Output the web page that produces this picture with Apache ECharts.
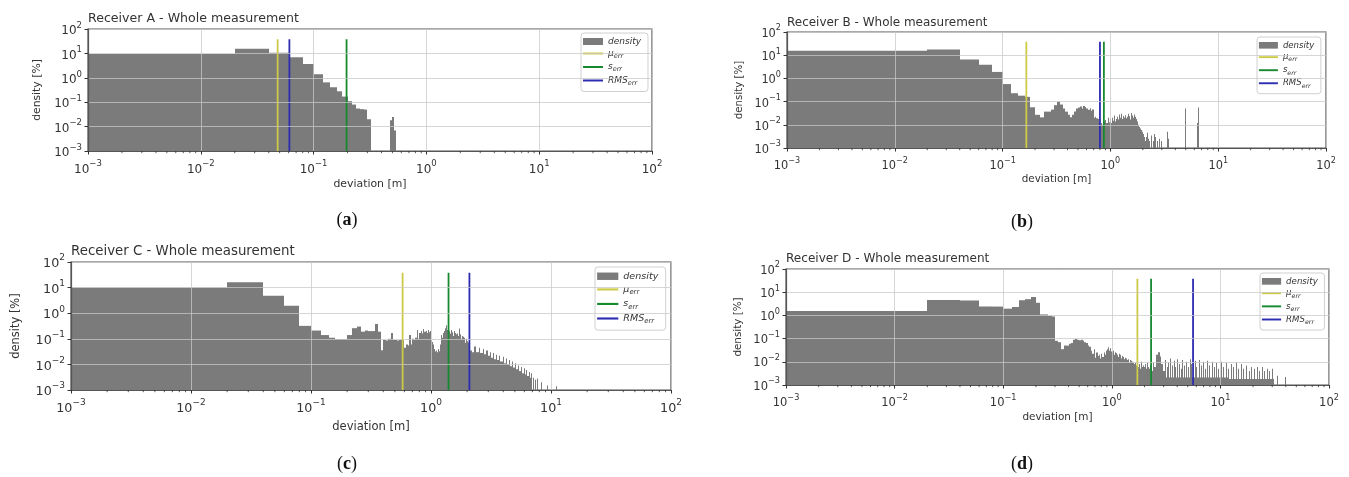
<!DOCTYPE html>
<html lang="en">
<head>
<meta charset="UTF-8">
<title>Receiver deviation histograms</title>
<script src="https://cdn.jsdelivr.net/npm/echarts@6/dist/echarts.min.js"></script>
<style>
    *{padding:0;margin:0;}
    html,body{width:100%;height:100%;background:#fff;}
    #main{width:1349px;height:477px;}
</style>
</head>
<body>
<div id="main"></div>
<script>
    // axis range, histogram bin width and height of the stat markers
    var X_MIN = 1e-3, X_MAX = 1e2, Y_MIN = 1e-3, Y_MAX = 1e2;
    var BIN_W = 0.02;
    var vlineTop = 38;

    var receivers = ['A', 'B', 'C', 'D'];
    var captions = ['a', 'b', 'c', 'd'];
    var seriesNames = ['density', 'mu', 's', 'rms'];

    // density [%] per 0.02 m bin, starting at 0 m
    var aHeights = [9.5, 15.5, 10.7, 6.9, 3.7, 1.4, 0.65, 0.41, 0.28, 0.17, 0.11, 0.08, 0.055, 0.052, 0.05, 0.02,
        0, 0, 0, 0, 0, 0, 0, 0, 0.018, 0.025, 0.007];
    var bHeights = [15.6, 17.7, 6.6, 3.9, 1.9, 0.57, 0.23, 0.18, 0.16, 0.057,
        0.027, 0.021, 0.037, 0.037, 0.045, 0.07, 0.1, 0.075, 0.05, 0.037,
        0.027, 0.021, 0.027, 0.037, 0.05, 0.055, 0.062, 0.05, 0.065, 0.058,
        0.05, 0.045, 0.052, 0.04, 0.046, 0.02, 0.022, 0.019, 0.018, 0.013,
        0.009, 0.012, 0.01, 0.011, 0.014, 0.016, 0.012, 0.02, 0.015, 0.013,
        0.018, 0.012, 0.02, 0.015, 0.025, 0.014, 0.018, 0.022, 0.013, 0.017,
        0.028, 0.016, 0.02, 0.03, 0.018, 0.024, 0.014, 0.02, 0.016, 0.026,
        0.019, 0.022, 0.015, 0.03, 0.02, 0.024, 0.017, 0.021, 0.032, 0.018,
        0.025, 0.02, 0.028, 0.015, 0.022, 0.012, 0.018, 0.01, 0.014, 0.008,
        0.01, 0.006, 0.008, 0.005, 0.007, 0.004, 0.006, 0.004, 0.003, 0.005,
        0.003, 0.004, 0.002, 0.003, 0.002];
    var cHeights = [10.2, 16, 4.8, 1.95, 0.32, 0.21, 0.14, 0.11, 0.098, 0.098,
        0.14, 0.26, 0.30, 0.19, 0.21, 0.2, 0.2, 0.38, 0.19, 0.036,
        0.09, 0.085, 0.1, 0.17, 0.09, 0.09, 0.085, 0.09, 0.095, 0.09,
        0.045, 0.06, 0.055, 0.14, 0.06, 0.1, 0.09, 0.11, 0.22, 0.1,
        0.17, 0.2, 0.16, 0.24, 0.19, 0.2, 0.17, 0.22, 0.18, 0.2,
        0.09, 0.075, 0.06, 0.04, 0.032, 0.035, 0.03, 0.04, 0.033, 0.06,
        0.1, 0.14, 0.11, 0.17, 0.2, 0.15, 0.26, 0.34, 0.22, 0.28,
        0.18, 0.2, 0.16, 0.22, 0.15, 0.18, 0.13, 0.2, 0.14, 0.17,
        0.12, 0.15, 0.11, 0.16, 0.13, 0.25, 0.14, 0.12, 0.15, 0.1,
        0.13, 0.09, 0.12, 0.08, 0.11, 0.09, 0.07, 0.1, 0.07, 0.08,
        0.065, 0.06, 0.07, 0.055, 0.05];
    var dHeights = [1.55, 4.6, 4.4, 2.4, 2.4, 1.95, 2.3, 4.5, 5.0, 6.2,
        3.5, 1.1, 1.1, 0.95, 0.9, 0.08, 0.07, 0.035, 0.05, 0.05,
        0.06, 0.065, 0.09, 0.095, 0.09, 0.085, 0.09, 0.08, 0.07, 0.065,
        0.05, 0.045, 0.03, 0.022, 0.035, 0.015, 0.025, 0.018, 0.02, 0.014,
        0.022, 0.016, 0.025, 0.02, 0.03, 0.035, 0.042, 0.03, 0.038, 0.028,
        0.025, 0.03, 0.02, 0.026, 0.018, 0.024, 0.02, 0.016, 0.022, 0.015,
        0.02, 0.014, 0.018, 0.012, 0.016, 0.013, 0.015, 0.011, 0.014, 0.012,
        0.01, 0.013, 0.009, 0.012, 0.01, 0.011, 0.008, 0.01, 0.007, 0.009,
        0.008, 0.006, 0.009, 0.005, 0.007, 0.012, 0.004, 0.006, 0.003, 0.008,
        0.004, 0.005, 0.01, 0.003, 0.006, 0.004, 0.007, 0.003, 0.005, 0.004,
        0.006, 0.003, 0.008, 0.002, 0.005, 0.004, 0.009, 0.003, 0.006, 0.002,
        0.005, 0.004, 0.007, 0.003, 0.004];

    // wider stretches of the long tail: [from m, to m, density]
    var aTail = [];
    var bTail = [];
    var cTail = [[2.10, 2.20, 0.035], [2.20, 2.30, 0.03], [2.30, 2.36, 0.05], [2.36, 2.50, 0.03], [2.50, 2.56, 0.045],
        [2.56, 2.70, 0.028], [2.70, 2.76, 0.04], [2.76, 2.90, 0.025], [2.90, 2.96, 0.035], [2.96, 3.10, 0.022],
        [3.10, 3.16, 0.03], [3.16, 3.30, 0.018], [3.30, 3.36, 0.028], [3.36, 3.50, 0.016], [3.50, 3.56, 0.024],
        [3.56, 3.70, 0.015], [3.70, 3.76, 0.022], [3.76, 3.95, 0.013], [3.95, 4.0, 0.02], [4.0, 4.2, 0.011],
        [4.2, 4.25, 0.017], [4.25, 4.45, 0.01], [4.45, 4.5, 0.015], [4.5, 4.7, 0.0085], [4.7, 4.75, 0.013],
        [4.75, 5.0, 0.0075], [5.0, 5.05, 0.011], [5.05, 5.3, 0.0065], [5.3, 5.35, 0.009], [5.35, 5.6, 0.0055],
        [5.6, 5.65, 0.008], [5.65, 5.9, 0.0045], [5.9, 5.95, 0.007], [5.95, 6.2, 0.004], [6.2, 6.25, 0.006],
        [6.25, 6.5, 0.0035], [6.5, 6.55, 0.005], [6.55, 6.8, 0.003], [6.8, 6.85, 0.0045], [6.85, 7.0, 0.0025]];
    var dTail = [[2.30, 2.40, 0.004], [2.40, 2.46, 0.009], [2.46, 2.56, 0.006], [2.56, 2.66, 0.02], [2.66, 2.76, 0.026],
        [2.76, 2.86, 0.017], [2.86, 2.96, 0.008], [2.96, 3.06, 0.004], [3.06, 12, 0.0021], [12, 31, 0.0018]];

    // single isolated bins: [position m, density]
    var aSpikes = [];
    var bSpikes = [[2.12, 0.003], [2.18, 0.0045], [2.24, 0.0025], [2.3, 0.002], [2.38, 0.0035], [2.46, 0.002],
        [2.54, 0.004], [2.62, 0.003], [2.7, 0.002], [2.8, 0.0025], [2.96, 0.002], [3.36, 0.005], [3.42, 0.0025],
        [4.96, 0.05], [6.42, 0.012], [6.5, 0.055]];
    var cSpikes = [[7.1, 0.003], [7.4, 0.0025], [7.7, 0.0028], [8.2, 0.002], [9.2, 0.0015], [11.1, 0.0014]];
    var dSpikes = [[3.1, 0.012], [3.2, 0.006], [3.3, 0.009], [3.45, 0.014], [3.55, 0.007], [3.7, 0.011], [3.85, 0.006],
        [4.0, 0.013], [4.15, 0.008], [4.3, 0.005], [4.45, 0.012], [4.6, 0.007], [4.8, 0.01], [5.0, 0.006],
        [5.2, 0.013], [5.4, 0.008], [5.8, 0.011], [6.0, 0.006], [6.3, 0.012], [6.6, 0.007], [6.9, 0.01],
        [7.2, 0.005], [7.5, 0.011], [7.9, 0.007], [8.3, 0.01], [8.7, 0.006], [9.1, 0.009], [9.6, 0.005],
        [10.1, 0.01], [10.6, 0.006], [11.2, 0.009], [11.8, 0.005], [12.4, 0.008], [13.1, 0.006], [13.8, 0.009],
        [14.6, 0.005], [15.4, 0.008], [16.3, 0.005], [17.2, 0.007], [18.2, 0.004], [19.2, 0.006], [20.3, 0.005],
        [21.5, 0.006], [22.7, 0.004], [24.0, 0.006], [25.4, 0.004], [26.8, 0.005], [28.3, 0.004], [30.0, 0.005],
        [33.5, 0.0025], [39.0, 0.0022]];

    // mean, standard deviation, RMS of the error [m]
    var aStats = [0.048, 0.196, 0.061];
    var bStats = [0.166, 0.87, 0.80];
    var cStats = [0.58, 1.40, 2.09];
    var dStats = [1.72, 2.30, 5.6];

    var heights = [aHeights, bHeights, cHeights, dHeights];
    var tails = [aTail, bTail, cTail, dTail];
    var spikes = [aSpikes, bSpikes, cSpikes, dSpikes];
    var stats = [aStats, bStats, cStats, dStats];

    // decade sub-ticks 2..9 for the log x axis
    var minorTicks = [];
    for (var e = -3; e < 2; e++) {
        for (var m = 2; m < 10; m++) minorTicks.push([m * Math.pow(10, e), Y_MIN]);
    }

    // page layout of the four panels
    var layout = [
        {grid: {left: 88, top: 29, width: 564, height: 122}, title: [88, 19], cap: [347, 220], legend: [581, 33], k: 1.0, xGap: 27.5, yGap: 45},
        {grid: {left: 787, top: 32, width: 539, height: 116}, title: [787, 23], cap: [1022, 222], legend: [1257, 37], k: 0.95, xGap: 26, yGap: 43},
        {grid: {left: 71, top: 262, width: 600, height: 128}, title: [71, 252], cap: [347, 464], legend: [595, 267], k: 1.06, xGap: 30.5, yGap: 49},
        {grid: {left: 786, top: 269, width: 543, height: 116}, title: [786, 259], cap: [1022, 464], legend: [1260, 273], k: 0.96, xGap: 27, yGap: 43}
    ];

    var GRAY = '#7b7b7b', YEL = '#cdca45', GRN = '#17892f', BLU = '#2c2cb0';
    var lineColors = [YEL, GRN, BLU];
    var FONT = 'DejaVu Sans';
    var LINE_ICON = 'path://M0,0H20V2H0Z';

    function buildBins(h, sp, tail) {
        var out = [];
        for (var i = 0; i < h.length; i++) {
            if (h[i] > 0) out.push([i * BIN_W, (i + 1) * BIN_W, h[i]]);
        }
        for (var j = 0; j < sp.length; j++) out.push([sp[j][0], sp[j][0] + BIN_W, sp[j][1]]);
        return out.concat(tail);
    }

    // edges snapped to whole pixels so neighbouring bins don't leave seams
    function renderBar(params, api) {
        var x0 = Math.max(api.value(0), X_MIN);
        var p0 = api.coord([x0, api.value(2)]);
        var p1 = api.coord([api.value(1), Y_MIN]);
        var left = Math.round(p0[0]);
        var right = Math.max(Math.round(p1[0]), left + 1);
        return {
            type: 'rect',
            shape: {x: left, y: p0[1], width: right - left, height: p1[1] - p0[1]},
            style: {fill: GRAY}
        };
    }

    function renderMinor(params, api) {
        var p = api.coord([api.value(0), Y_MIN]);
        return {
            type: 'line',
            shape: {x1: p[0], y1: p[1], x2: p[0], y2: p[1] + 2.2},
            style: {stroke: '#333', lineWidth: 0.8}
        };
    }

    function powLabel(v) {
        var ex = Math.round(Math.log(v) / Math.LN10);
        return '{b|10}{s|' + (ex < 0 ? '\u2212' + (-ex) : ex) + '}';
    }

    function tickRich(k) {
        return {
            b: {fontFamily: FONT, fontSize: 12 * k, color: '#333', lineHeight: 16 * k, verticalAlign: 'bottom'},
            s: {fontFamily: FONT, fontSize: 8.5 * k, color: '#333', lineHeight: 8 * k, verticalAlign: 'top'}
        };
    }

    var legendText = {density: '{i|density}', mu: '{i|\u03bc}{sub|err}', s: '{i|s}{sub|err}', rms: '{i|RMS}{sub|err}'};

    var grids = [], xAxes = [], yAxes = [], series = [], legends = [], graphics = [];

    for (var i = 0; i < 4; i++) {
        var L = layout[i], k = L.k;
        grids.push({
            left: L.grid.left, top: L.grid.top, width: L.grid.width, height: L.grid.height,
            show: true, borderColor: '#555', borderWidth: 1.2, backgroundColor: 'transparent'
        });
        xAxes.push({
            type: 'log', gridIndex: i, logBase: 10, min: X_MIN, max: X_MAX, splitNumber: 5, z: 10,
            name: 'deviation [m]', nameLocation: 'middle', nameGap: L.xGap,
            nameTextStyle: {fontFamily: FONT, fontSize: 10.9 * k, color: '#333'},
            axisLine: {show: true, onZero: false, lineStyle: {color: '#555', width: 1.2}},
            axisTick: {show: true, length: 3.5, lineStyle: {color: '#333'}},
            axisLabel: {margin: 8.5, formatter: powLabel, rich: tickRich(k)},
            splitLine: {show: true, lineStyle: {color: 'rgba(200,200,200,0.75)', width: 1}}
        });
        yAxes.push({
            type: 'log', gridIndex: i, logBase: 10, min: Y_MIN, max: Y_MAX, splitNumber: 5, z: 10,
            name: 'density [%]', nameLocation: 'middle', nameGap: L.yGap, nameRotate: 90,
            nameTextStyle: {fontFamily: FONT, fontSize: 10.8 * k, color: '#333'},
            axisLine: {show: true, onZero: false, lineStyle: {color: '#555', width: 1.2}},
            axisTick: {show: true, length: 3.5, lineStyle: {color: '#333'}},
            axisLabel: {margin: 6, formatter: powLabel, rich: tickRich(k)},
            splitLine: {show: true, lineStyle: {color: 'rgba(200,200,200,0.75)', width: 1}}
        });

        series.push({
            name: 'density', type: 'custom', xAxisIndex: i, yAxisIndex: i,
            renderItem: renderBar, encode: {x: [0, 1], y: 2},
            itemStyle: {color: GRAY}, silent: true, animation: false, z: 2,
            data: buildBins(heights[i], spikes[i], tails[i])
        });
        for (var s = 0; s < 3; s++) {
            var v = stats[i][s];
            series.push({
                name: seriesNames[s + 1], type: 'line', xAxisIndex: i, yAxisIndex: i,
                symbol: 'none', silent: true, animation: false, z: 3,
                lineStyle: {color: lineColors[s], width: 1.8},
                itemStyle: {color: lineColors[s]},
                data: [[v, Y_MIN], [v, vlineTop]]
            });
        }
        series.push({
            name: 'minor', type: 'custom', xAxisIndex: i, yAxisIndex: i,
            renderItem: renderMinor, encode: {x: 0, y: 1}, silent: true, animation: false, z: 11,
            data: minorTicks
        });

        legends.push({
            left: L.legend[0], top: L.legend[1], orient: 'vertical',
            itemWidth: 20 * k, itemHeight: 7 * k, itemGap: 3 * k,
            padding: [4 * k, 7 * k, 5 * k, 2 * k],
            borderColor: '#d0d0d0', borderWidth: 1, borderRadius: 3,
            backgroundColor: 'rgba(255,255,255,0.8)',
            selectedMode: false,
            data: [
                {name: 'density', icon: 'rect'},
                {name: 'mu', icon: LINE_ICON},
                {name: 's', icon: LINE_ICON},
                {name: 'rms', icon: LINE_ICON}
            ],
            formatter: function (n) { return legendText[n]; },
            textStyle: {
                rich: {
                    i: {fontFamily: FONT, fontStyle: 'italic', fontSize: 9 * k, color: '#333', lineHeight: 12 * k, verticalAlign: 'middle'},
                    sub: {fontFamily: FONT, fontStyle: 'italic', fontSize: 6.5 * k, color: '#333', lineHeight: 8 * k, verticalAlign: 'bottom'}
                }
            }
        });

        graphics.push({
            type: 'text', x: L.title[0], y: L.title[1], silent: true,
            style: {
                text: 'Receiver ' + receivers[i] + ' - Whole measurement',
                fontFamily: FONT, fontSize: 12.6 * k, fill: '#333', verticalAlign: 'middle'
            }
        });
        graphics.push({
            type: 'text', x: L.cap[0], y: L.cap[1], silent: true,
            style: {
                text: '({b|' + captions[i] + '})',
                fontFamily: 'Liberation Serif', fontSize: 18, fill: '#111',
                align: 'center', verticalAlign: 'middle',
                rich: {b: {fontFamily: 'Liberation Serif', fontSize: 18, fontWeight: 'bold', fill: '#111'}}
            }
        });
    }

    var chart = echarts.init(document.getElementById('main'));
    chart.setOption({
        backgroundColor: '#fff',
        animation: false,
        grid: grids,
        xAxis: xAxes,
        yAxis: yAxes,
        legend: legends,
        graphic: graphics,
        series: series
    });
</script>
</body>
</html>
